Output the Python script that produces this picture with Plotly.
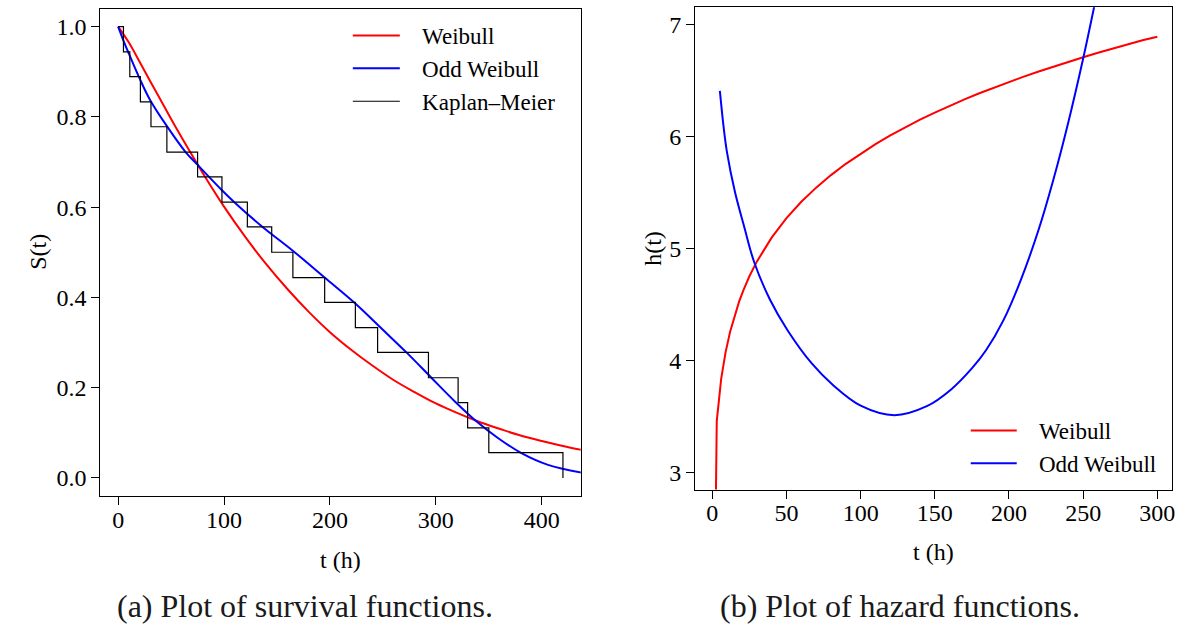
import plotly.graph_objects as go

# ---------------- data ----------------
# Kaplan-Meier estimate (step function)
km_t = [0, 5, 11, 21, 31, 46, 75, 98, 122, 145, 165, 195, 224, 245, 293, 321, 330, 350, 420]
km_s = [1.0, 0.944, 0.889, 0.833, 0.778, 0.722, 0.667, 0.611, 0.556, 0.5, 0.444,
        0.389, 0.333, 0.278, 0.222, 0.167, 0.111, 0.056, 0.0]

# Weibull survival
wb_s_t = [0, 10, 20, 30, 40, 50, 60, 80, 100, 120, 140, 160, 180, 200, 220, 240,
          260, 280, 300, 320, 340, 360, 380, 400, 420, 440]
wb_s = [1.0, 0.965, 0.923, 0.880, 0.838, 0.795, 0.754, 0.675, 0.601, 0.534, 0.473,
        0.418, 0.368, 0.323, 0.284, 0.249, 0.217, 0.190, 0.165, 0.144, 0.125,
        0.109, 0.094, 0.082, 0.071, 0.061]

# Odd Weibull survival
ow_s_t = [0, 5, 9.4, 19.7, 30, 47, 63.7, 74.9, 97.8, 109.7, 136.4, 164.6, 195, 224.2,
          249.2, 272.7, 296.2, 318.2, 338.5, 358.9, 380.8, 405.9, 437.2]
ow_s = [1.0, 0.969, 0.944, 0.888, 0.838, 0.776, 0.722, 0.694, 0.638, 0.611, 0.556,
        0.504, 0.444, 0.386, 0.330, 0.277, 0.221, 0.169, 0.125, 0.088, 0.055, 0.029, 0.012]

# Weibull hazard
wb_h_t = [0, 3, 6, 9, 12, 15, 18, 21, 25, 30, 35, 40, 50, 60, 70, 80, 90, 100, 110,
          120, 130, 140, 150, 160, 170, 180, 190, 200, 210, 220, 230, 240, 250, 260,
          270, 280, 290, 300]
wb_h = [0.0, 3.457, 3.836, 4.076, 4.256, 4.401, 4.523, 4.629, 4.752, 4.883, 4.997,
        5.098, 5.272, 5.419, 5.545, 5.657, 5.758, 5.850, 5.934, 6.012, 6.085, 6.153,
        6.216, 6.277, 6.334, 6.389, 6.441, 6.491, 6.538, 6.584, 6.628, 6.670, 6.711,
        6.751, 6.790, 6.827, 6.863, 6.895]

# Odd Weibull hazard
ow_h_t = [5.1, 7.6, 9.8, 15.2, 21.5, 28.2, 39, 50.7, 67.2, 81.3, 100, 122.8, 144.6,
          161, 175.1, 184.5, 196.3, 208, 220, 230, 240, 250, 258]
ow_h = [6.41, 6.09, 5.87, 5.51, 5.195, 4.88, 4.54, 4.27, 3.97, 3.78, 3.595, 3.51, 3.59,
        3.74, 3.93, 4.09, 4.36, 4.72, 5.17, 5.62, 6.13, 6.70, 7.20]

left_ticks = [0, 100, 200, 300, 400]
left_yticks = [0.0, 0.2, 0.4, 0.6, 0.8, 1.0]
right_ticks = [0, 50, 100, 150, 200, 250, 300]
right_yticks = [3, 4, 5, 6, 7]

# ---------------- figure ----------------
W, H = 1185, 631
FONT = "Liberation Serif"
RED = "#ff0000"
BLUE = "#0000ff"
PAD = "\u00a0\u00a0\u00a0"

fig = go.Figure()

fig.add_trace(go.Scatter(x=wb_s_t, y=wb_s, mode="lines", name=PAD + "Weibull",
                         line=dict(color=RED, width=2, shape="spline"),
                         xaxis="x", yaxis="y", legend="legend"))
fig.add_trace(go.Scatter(x=ow_s_t, y=ow_s, mode="lines", name=PAD + "Odd Weibull",
                         line=dict(color=BLUE, width=2, shape="spline"),
                         xaxis="x", yaxis="y", legend="legend"))
fig.add_trace(go.Scatter(x=km_t, y=km_s, mode="lines", name=PAD + "Kaplan\u2013Meier",
                         line=dict(color="black", width=1.2, shape="hv"),
                         xaxis="x", yaxis="y", legend="legend"))

fig.add_trace(go.Scatter(x=wb_h_t, y=wb_h, mode="lines", name=PAD + "Weibull",
                         line=dict(color=RED, width=2),
                         xaxis="x2", yaxis="y2", legend="legend2"))
fig.add_trace(go.Scatter(x=ow_h_t, y=ow_h, mode="lines", name=PAD + "Odd Weibull",
                         line=dict(color=BLUE, width=2, shape="spline", smoothing=1),
                         xaxis="x2", yaxis="y2", legend="legend2"))

axis_common = dict(showgrid=False, zeroline=False, showline=True, mirror=True,
                   linecolor="black", linewidth=1, ticks="outside", ticklen=8,
                   tickwidth=1, tickcolor="black",
                   tickfont=dict(family=FONT, size=24, color="black"))

fig.update_layout(
    width=W, height=H,
    margin=dict(l=0, r=0, t=0, b=0),
    paper_bgcolor="white", plot_bgcolor="white",
    font=dict(family=FONT, size=24, color="black"),
    xaxis=dict(domain=[100.7 / W, 582.7 / W], range=[-16.8, 436.8],
               tickvals=left_ticks, anchor="y", ticklabelstandoff=-6, **axis_common),
    yaxis=dict(domain=[(H - 496) / H, (H - 8.5) / H], range=[-0.04, 1.04],
               tickvals=left_yticks, tickformat=".1f", anchor="x", **axis_common),
    xaxis2=dict(domain=[697.3 / W, 1175.7 / W], range=[-11.7, 309.7],
                tickvals=right_ticks, anchor="y2", ticklabelstandoff=-6, **axis_common),
    yaxis2=dict(domain=[(H - 489.5) / H, (H - 7.3) / H], range=[2.845, 7.158],
                tickvals=right_yticks, anchor="x2", **axis_common),
    legend=dict(x=349 / W, y=(H - 14) / H, xanchor="left", yanchor="top",
                bgcolor="rgba(0,0,0,0)", borderwidth=0, itemwidth=47,
                font=dict(family=FONT, size=23, color="black"),
                tracegroupgap=0),
    legend2=dict(x=969 / W, y=(H - 409) / H, xanchor="left", yanchor="top",
                 bgcolor="rgba(0,0,0,0)", borderwidth=0, itemwidth=46,
                 font=dict(family=FONT, size=23, color="black"),
                 tracegroupgap=0),
    showlegend=True,
)

ann = [
    dict(text="S(t)", x=38 / W, y=(H - 252) / H, textangle=-90),
    dict(text="h(t)", x=655 / W, y=(H - 248) / H, textangle=-90),
    dict(text="t (h)", x=341.7 / W, y=(H - 560) / H),
    dict(text="t (h)", x=936.5 / W, y=(H - 552) / H),
]
for a in ann:
    fig.add_annotation(xref="paper", yref="paper", showarrow=False,
                       xanchor="center", yanchor="middle",
                       font=dict(family=FONT, size=24, color="black"), **a)

fig.add_annotation(text="(a) Plot of survival functions.", xref="paper", yref="paper",
                   x=306 / W, y=(H - 606) / H, showarrow=False, xanchor="center",
                   yanchor="middle", font=dict(family=FONT, size=32, color="#1a1a1a"))
fig.add_annotation(text="(b) Plot of hazard functions.", xref="paper", yref="paper",
                   x=903 / W, y=(H - 606) / H, showarrow=False, xanchor="center",
                   yanchor="middle", font=dict(family=FONT, size=32, color="#1a1a1a"))

fig.write_html("out.html")
